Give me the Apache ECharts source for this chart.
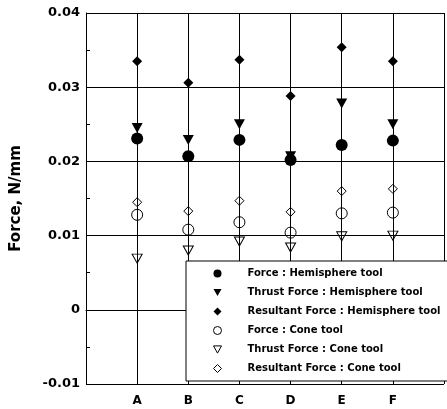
<!DOCTYPE html>
<html>
<head>
<meta charset="utf-8">
<script src="https://cdn.jsdelivr.net/npm/echarts@6/dist/echarts.min.js"></script>
<style>html,body{margin:0;padding:0;background:#fff}#c{width:447px;height:409px}</style>
</head>
<body>
<div id="c"></div>
<script>
const categories = ['A', 'B', 'C', 'D', 'E', 'F'];
const yTicks = [-0.01, 0, 0.01, 0.02, 0.03, 0.04];
const forceHemi = [0.0231, 0.0207, 0.0229, 0.0202, 0.0222, 0.0228];
const thrustHemi = [0.0245, 0.0229, 0.0250, 0.0207, 0.0278, 0.0250];
const resultantHemi = [0.0335, 0.0306, 0.0337, 0.0288, 0.0354, 0.0335];
const forceCone = [0.0128, 0.0108, 0.0118, 0.0104, 0.0130, 0.0131];
const thrustCone = [0.0069, 0.0080, 0.0092, 0.0084, 0.0099, 0.0100];
const resultantCone = [0.0145, 0.0133, 0.0147, 0.0132, 0.0160, 0.0163];
const seriesNames = [
  'Force : Hemisphere tool',
  'Thrust Force : Hemisphere tool',
  'Resultant Force : Hemisphere tool',
  'Force : Cone tool',
  'Thrust Force : Cone tool',
  'Resultant Force : Cone tool'
];

const axisCats = [''].concat(categories, ['']);
const pairs = arr => arr.map((v, i) => [categories[i], v]);
const filled = { color: '#000', opacity: 1 };
const hollow = { color: 'rgba(0,0,0,0)', borderColor: '#000', borderWidth: 1, opacity: 1 };
const downTri = 'path://M0,0 L10,0 L5,9 Z';

const chart = echarts.init(document.getElementById('c'), null, { renderer: 'canvas' });
chart.setOption({
  animation: false,
  backgroundColor: '#fff',
  grid: { left: 86, right: 0.5, top: 13, bottom: 25 },
  xAxis: {
    type: 'category',
    data: axisCats,
    boundaryGap: false,
    axisLine: { show: true, lineStyle: { color: '#000', width: 1 } },
    axisTick: { show: false },
    axisLabel: { color: '#000', fontFamily: 'DejaVu Sans', fontWeight: 'bold', fontSize: 12, margin: 11, interval: 0 },
    splitLine: { show: true, lineStyle: { color: '#000', width: 1 } }
  },
  yAxis: {
    type: 'value',
    min: yTicks[0],
    max: yTicks[yTicks.length - 1],
    interval: 0.01,
    name: 'Force, N/mm',
    nameLocation: 'middle',
    nameGap: 62,
    nameTextStyle: { color: '#000', fontFamily: 'DejaVu Sans', fontWeight: 'bold', fontSize: 15 },
    axisLine: { show: true, lineStyle: { color: '#000', width: 1 } },
    axisTick: { show: true, inside: true, length: 4, lineStyle: { color: '#000' } },
    minorTick: { show: true, splitNumber: 2, length: 4, lineStyle: { color: '#000' } },
    axisLabel: {
      color: '#000', fontFamily: 'DejaVu Sans', fontWeight: 'bold', fontSize: 13, margin: 6,
      formatter: v => Math.abs(v) < 1e-9 ? '0' : v.toFixed(2)
    },
    splitLine: { show: true, lineStyle: { color: '#000', width: 1 } }
  },
  legend: {
    orient: 'vertical',
    left: 186,
    top: 261,
    padding: [6, 30, 6, 27],
    itemWidth: 8,
    itemHeight: 8,
    itemGap: 6,
    backgroundColor: '#fff',
    borderColor: '#000',
    borderWidth: 1,
    textStyle: { color: '#000', fontFamily: 'DejaVu Sans', fontWeight: 'bold', fontSize: 10, lineHeight: 13, padding: [0, 0, 0, 21] },
    data: [
      { name: seriesNames[0], itemStyle: filled },
      { name: seriesNames[1], icon: downTri, itemStyle: filled },
      { name: seriesNames[2], itemStyle: filled },
      { name: seriesNames[3], itemStyle: hollow },
      { name: seriesNames[4], icon: downTri, itemStyle: hollow },
      { name: seriesNames[5], itemStyle: hollow }
    ]
  },
  series: [
    { name: seriesNames[0], type: 'scatter', data: pairs(forceHemi), symbol: 'circle', symbolSize: 12, itemStyle: filled, z: 3 },
    { name: seriesNames[1], type: 'scatter', data: pairs(thrustHemi), symbol: 'triangle', symbolRotate: 180, symbolSize: [11, 10], itemStyle: filled, z: 3 },
    { name: seriesNames[2], type: 'scatter', data: pairs(resultantHemi), symbol: 'diamond', symbolSize: 10, itemStyle: filled, z: 3 },
    { name: seriesNames[3], type: 'scatter', data: pairs(forceCone), symbol: 'circle', symbolSize: 11, itemStyle: hollow, z: 3 },
    { name: seriesNames[4], type: 'scatter', data: pairs(thrustCone), symbol: 'triangle', symbolRotate: 180, symbolSize: [10, 9], itemStyle: hollow, z: 3 },
    { name: seriesNames[5], type: 'scatter', data: pairs(resultantCone), symbol: 'diamond', symbolSize: 9, itemStyle: hollow, z: 3 }
  ]
});
</script>
</body>
</html>
